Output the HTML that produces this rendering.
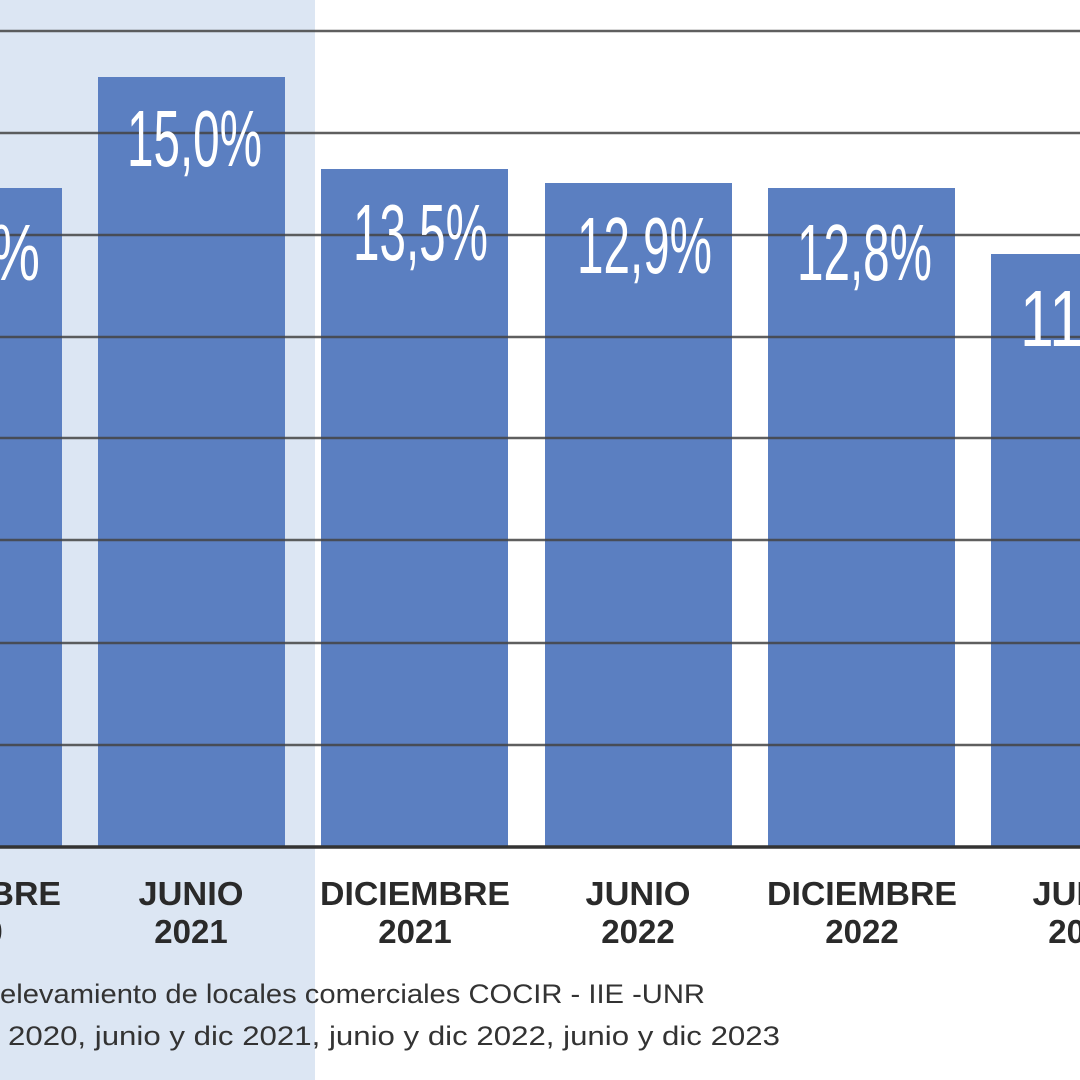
<!DOCTYPE html>
<html><head><meta charset="utf-8"><style>html,body{margin:0;padding:0;background:#fff}svg{display:block}</style></head>
<body>
<svg width="1080" height="1080" viewBox="0 0 1080 1080" xmlns="http://www.w3.org/2000/svg">
<rect x="0" y="0" width="1080" height="1080" fill="#fff"/>
<rect x="0" y="0" width="315" height="1080" fill="#dce6f3"/>
<g fill="#5b7fc1">
<rect x="0" y="188" width="62" height="659"/>
<rect x="98" y="77" width="187" height="770"/>
<rect x="321" y="169" width="187" height="678"/>
<rect x="545" y="183" width="187" height="664"/>
<rect x="768" y="188" width="187" height="659"/>
<rect x="991" y="254" width="89" height="593"/>
</g>
<g stroke="#444" stroke-width="2.5" opacity="0.85">
<line x1="0" y1="31" x2="1080" y2="31"/>
<line x1="0" y1="133" x2="1080" y2="133"/>
<line x1="0" y1="235" x2="1080" y2="235"/>
<line x1="0" y1="337" x2="1080" y2="337"/>
<line x1="0" y1="438" x2="1080" y2="438"/>
<line x1="0" y1="540" x2="1080" y2="540"/>
<line x1="0" y1="643" x2="1080" y2="643"/>
<line x1="0" y1="745" x2="1080" y2="745"/>
</g>
<line x1="0" y1="847" x2="1080" y2="847" stroke="#333" stroke-width="3.5"/>
<g fill="#fff" font-family="'Liberation Sans Narrow','Liberation Sans',sans-serif" font-size="80">
<text x="-40" y="280" textLength="80" lengthAdjust="spacingAndGlyphs">9%</text>
<text x="127" y="166" textLength="135" lengthAdjust="spacingAndGlyphs">15,0%</text>
<text x="353" y="260" textLength="135" lengthAdjust="spacingAndGlyphs">13,5%</text>
<text x="577" y="273" textLength="135" lengthAdjust="spacingAndGlyphs">12,9%</text>
<text x="797" y="280" textLength="135" lengthAdjust="spacingAndGlyphs">12,8%</text>
<text x="1020" y="346" textLength="80" lengthAdjust="spacingAndGlyphs">11,</text>
</g>
<g fill="#2a2a2a" font-family="'Liberation Sans',sans-serif" font-size="33" font-weight="bold" text-anchor="middle">
<text x="-34" y="905" textLength="190" lengthAdjust="spacingAndGlyphs">DICIEMBRE</text><text x="-34" y="943">2020</text>
<text x="191" y="905" textLength="105" lengthAdjust="spacingAndGlyphs">JUNIO</text><text x="191" y="943">2021</text>
<text x="415" y="905" textLength="190" lengthAdjust="spacingAndGlyphs">DICIEMBRE</text><text x="415" y="943">2021</text>
<text x="638" y="905" textLength="105" lengthAdjust="spacingAndGlyphs">JUNIO</text><text x="638" y="943">2022</text>
<text x="862" y="905" textLength="190" lengthAdjust="spacingAndGlyphs">DICIEMBRE</text><text x="862" y="943">2022</text>
<text x="1085" y="905" textLength="105" lengthAdjust="spacingAndGlyphs">JUNIO</text><text x="1085" y="943">2023</text>
</g>
<g fill="#333" font-family="'Liberation Sans',sans-serif" font-size="27">
<text x="0" y="1003" textLength="705" lengthAdjust="spacingAndGlyphs">elevamiento de locales comerciales COCIR - IIE -UNR</text>
<text x="8" y="1045" textLength="772" lengthAdjust="spacingAndGlyphs">2020, junio y dic 2021, junio y dic 2022, junio y dic 2023</text>
</g>
</svg>
</body></html>
